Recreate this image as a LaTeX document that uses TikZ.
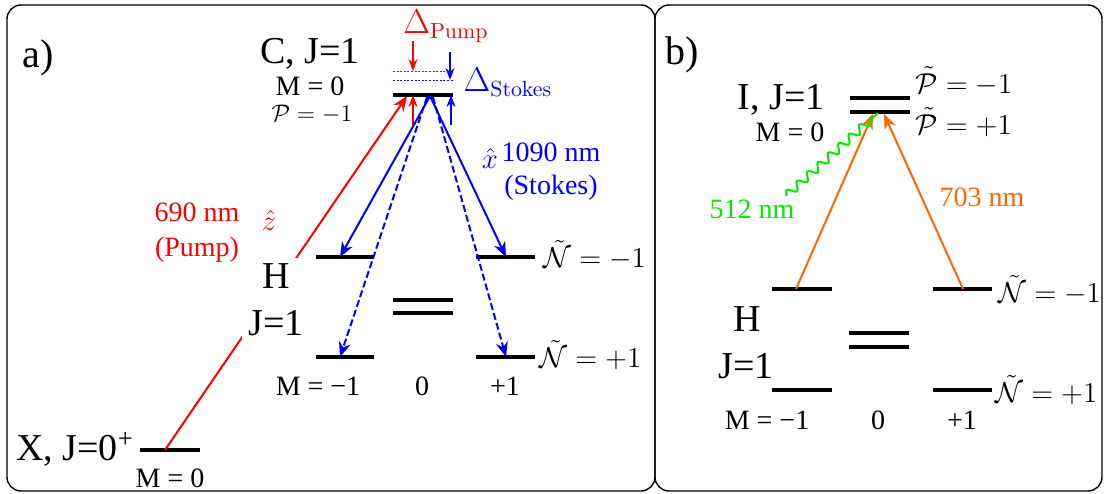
\documentclass[tikz,border=0pt]{standalone}
\usepackage[no-math]{fontspec}
\setmainfont{Liberation Serif}
\usepackage{amsmath,amssymb}
\usepackage{tikz}
\usetikzlibrary{arrows.meta,decorations.pathmorphing}

\definecolor{pumpred}{RGB}{255,0,0}
\definecolor{stokesblue}{RGB}{0,0,255}
\definecolor{ionorange}{RGB}{255,102,0}
\definecolor{fluogreen}{RGB}{0,235,0}

\begin{document}
\begin{tikzpicture}[x=0.5pt,y=-0.5pt,
  lvl/.style={line width=2.1pt},
  big/.style={font=\fontsize{19}{23.5}\selectfont,inner sep=0pt,anchor=base},
  txt/.style={font=\fontsize{14}{17.5}\selectfont,inner sep=0pt,anchor=base},
  smalltxt/.style={font=\fontsize{14}{16}\selectfont,inner sep=0pt,anchor=base west},
  detlbl/.style={font=\fontsize{16}{18}\selectfont,inner sep=0pt,anchor=base},
  transarrow/.style={line width=1pt,-{Stealth[length=7.5pt,width=6pt]}},
  detarrow/.style={line width=0.6pt,-{Stealth[length=6pt,width=4.5pt]}},
  virt/.style={line width=0.5pt,dash pattern=on 1pt off 0.8pt},
  frame/.style={line width=0.7pt,rounded corners=7pt}]
  \useasboundingbox (0,0) rectangle (1106,493);
  \draw[frame] (7,5) rectangle (655,491);
  \draw[frame] (655,5) rectangle (1102,491);

  % ---- a) ----
  \node[big,font=\fontsize{20}{24}\selectfont] (lbla) at (38,67) {a)};

  % C state
  \draw[lvl] (393,95) -- (453,95);
  \node[big] (Cname) at (310,63) {C, J=1};
  \node[txt] (CM) at (310,95) {M = 0};
  \node[txt,font=\fontsize{13}{15}\selectfont] (CP) at (312,121) {$\mathcal{P}=-1$};
  \draw[pumpred,virt] (393,71) -- (453,71);
  \draw[stokesblue,virt] (393,80) -- (453,80);
  \node[detlbl,pumpred] (dP) at (446,33) {$\Delta_{\mathrm{Pump}}$};
  \node[detlbl,stokesblue] (dS) at (508,91) {$\Delta_{\mathrm{Stokes}}$};
  \coordinate (dPtop) at (413,41);
  \coordinate (dPvir) at (413,71);
  \coordinate (dStop) at (450,52);
  \coordinate (dSvir) at (450,80);
  \coordinate (dPlow) at (413,125);
  \coordinate (dPlev) at (413,95);
  \coordinate (dSlow) at (451,125);
  \coordinate (dSlev) at (451,95);
  \draw[detarrow,pumpred] (dPtop) -- (dPvir);
  \draw[detarrow,stokesblue] (dStop) -- (dSvir);
  \draw[detarrow,pumpred] (dPlow) -- (dPlev);
  \draw[detarrow,stokesblue] (dSlow) -- (dSlev);

  % H state
  \foreach \y in {257,357} {
    \draw[lvl] (316,\y) -- (374,\y);
    \draw[lvl] (476,\y) -- (535,\y);
  }
  \draw[lvl] (393,300) -- (453,300);
  \draw[lvl] (393,313) -- (453,313);
  \coordinate (Hmu) at (340,257);
  \coordinate (Hpu) at (506,257);
  \coordinate (Hml) at (340,357);
  \coordinate (Hpl) at (506,357);
  \node[txt] (aMm) at (318,395) {M = −1};
  \node[txt] (aMz) at (422,395) {0};
  \node[txt] (aMp) at (505,395) {+1};
  \node[txt,anchor=base west] (aNm) at (543,267) {$\tilde{\mathcal{N}}=-1$};
  \node[txt,anchor=base west] (aNp) at (539,367) {$\tilde{\mathcal{N}}=+1$};

  % X state
  \draw[lvl] (140,450) -- (200,450);
  \coordinate (Xg) at (165,450);
  \node[big] (Xname) at (75,460) {X, J=0\textsuperscript{+}};
  \node[txt] (XM) at (170,487) {M = 0};

  % transitions
  \coordinate (Cp) at (407,96);
  \coordinate (Cs) at (430,96);
  \coordinate (Cdl) at (427,97);
  \coordinate (Cdr) at (433,97);
  \draw[transarrow,pumpred] (Xg) -- (Cp);
  \draw[transarrow,stokesblue] (Cs) -- (Hmu);
  \draw[transarrow,stokesblue] (Cs) -- (Hpu);
  \draw[transarrow,stokesblue,dash pattern=on 3.5pt off 1.6pt] (Cdl) -- (Hml);
  \draw[transarrow,stokesblue,dash pattern=on 3.5pt off 1.6pt] (Cdr) -- (Hpl);
  \node[fill=white,inner sep=3pt,align=center,font=\fontsize{19}{23.5}\selectfont] (Hname) at (276,300) {H\\J=1};
  \node[pumpred,align=center,inner sep=0pt,font=\fontsize{14}{17.5}\selectfont] (pumpl) at (197,233) {690 nm\\(Pump)};
  \node[txt,pumpred] (zhat) at (269,230) {$\hat{z}$};
  \node[stokesblue,align=center,inner sep=0pt,font=\fontsize{14}{16.5}\selectfont] (stokesl) at (551,172) {1090 nm\\(Stokes)};
  \node[txt,stokesblue] (xhat) at (490,168) {$\hat{x}$};

  % ---- b) ----
  \node[big,font=\fontsize{20}{24}\selectfont] (lblb) at (682,64) {b)};

  % I state
  \draw[lvl] (850,98) -- (910,98);
  \draw[lvl] (850,112) -- (910,112);
  \node[big] (Iname) at (781,109) {I, J=1};
  \node[txt] (IM) at (790,141) {M = 0};
  \node[smalltxt] (Pm) at (915,93) {$\tilde{\mathcal{P}}=-1$};
  \node[smalltxt] (Pp) at (915,134) {$\tilde{\mathcal{P}}=+1$};

  % H state
  \foreach \y in {289,390} {
    \draw[lvl] (772,\y) -- (832,\y);
    \draw[lvl] (933,\y) -- (992,\y);
  }
  \draw[lvl] (849,333) -- (909,333);
  \draw[lvl] (849,347) -- (909,347);
  \node[big] (bH) at (747,331) {H};
  \node[big] (bJ) at (746,378) {J=1};
  \node[txt] (bMm) at (767,429) {M = −1};
  \node[txt] (bMz) at (878,429) {0};
  \node[txt] (bMp) at (962,429) {+1};
  \node[txt,anchor=base west] (bNm) at (998,302) {$\tilde{\mathcal{N}}=-1$};
  \node[txt,anchor=base west] (bNp) at (995,402) {$\tilde{\mathcal{N}}=+1$};

  % transitions
  \coordinate (bHm) at (796,289);
  \coordinate (bHp) at (963,289);
  \coordinate (bIl) at (873,114);
  \coordinate (bIr) at (884,114);
  \coordinate (flu) at (786,196);
  \coordinate (bIg) at (878,113);
  \draw[transarrow,ionorange] (bHm) -- (bIl);
  \draw[transarrow,ionorange] (bHp) -- (bIr);
  \draw[fluogreen,line width=1pt,decorate,
        decoration={snake,amplitude=2pt,segment length=7pt,post length=2pt}] (flu) -- (bIg);
  \node[txt,fluogreen] (fll) at (752,218) {512 nm};
  \node[txt,ionorange] (ionl) at (982,206) {703 nm};
\end{tikzpicture}
\end{document}
